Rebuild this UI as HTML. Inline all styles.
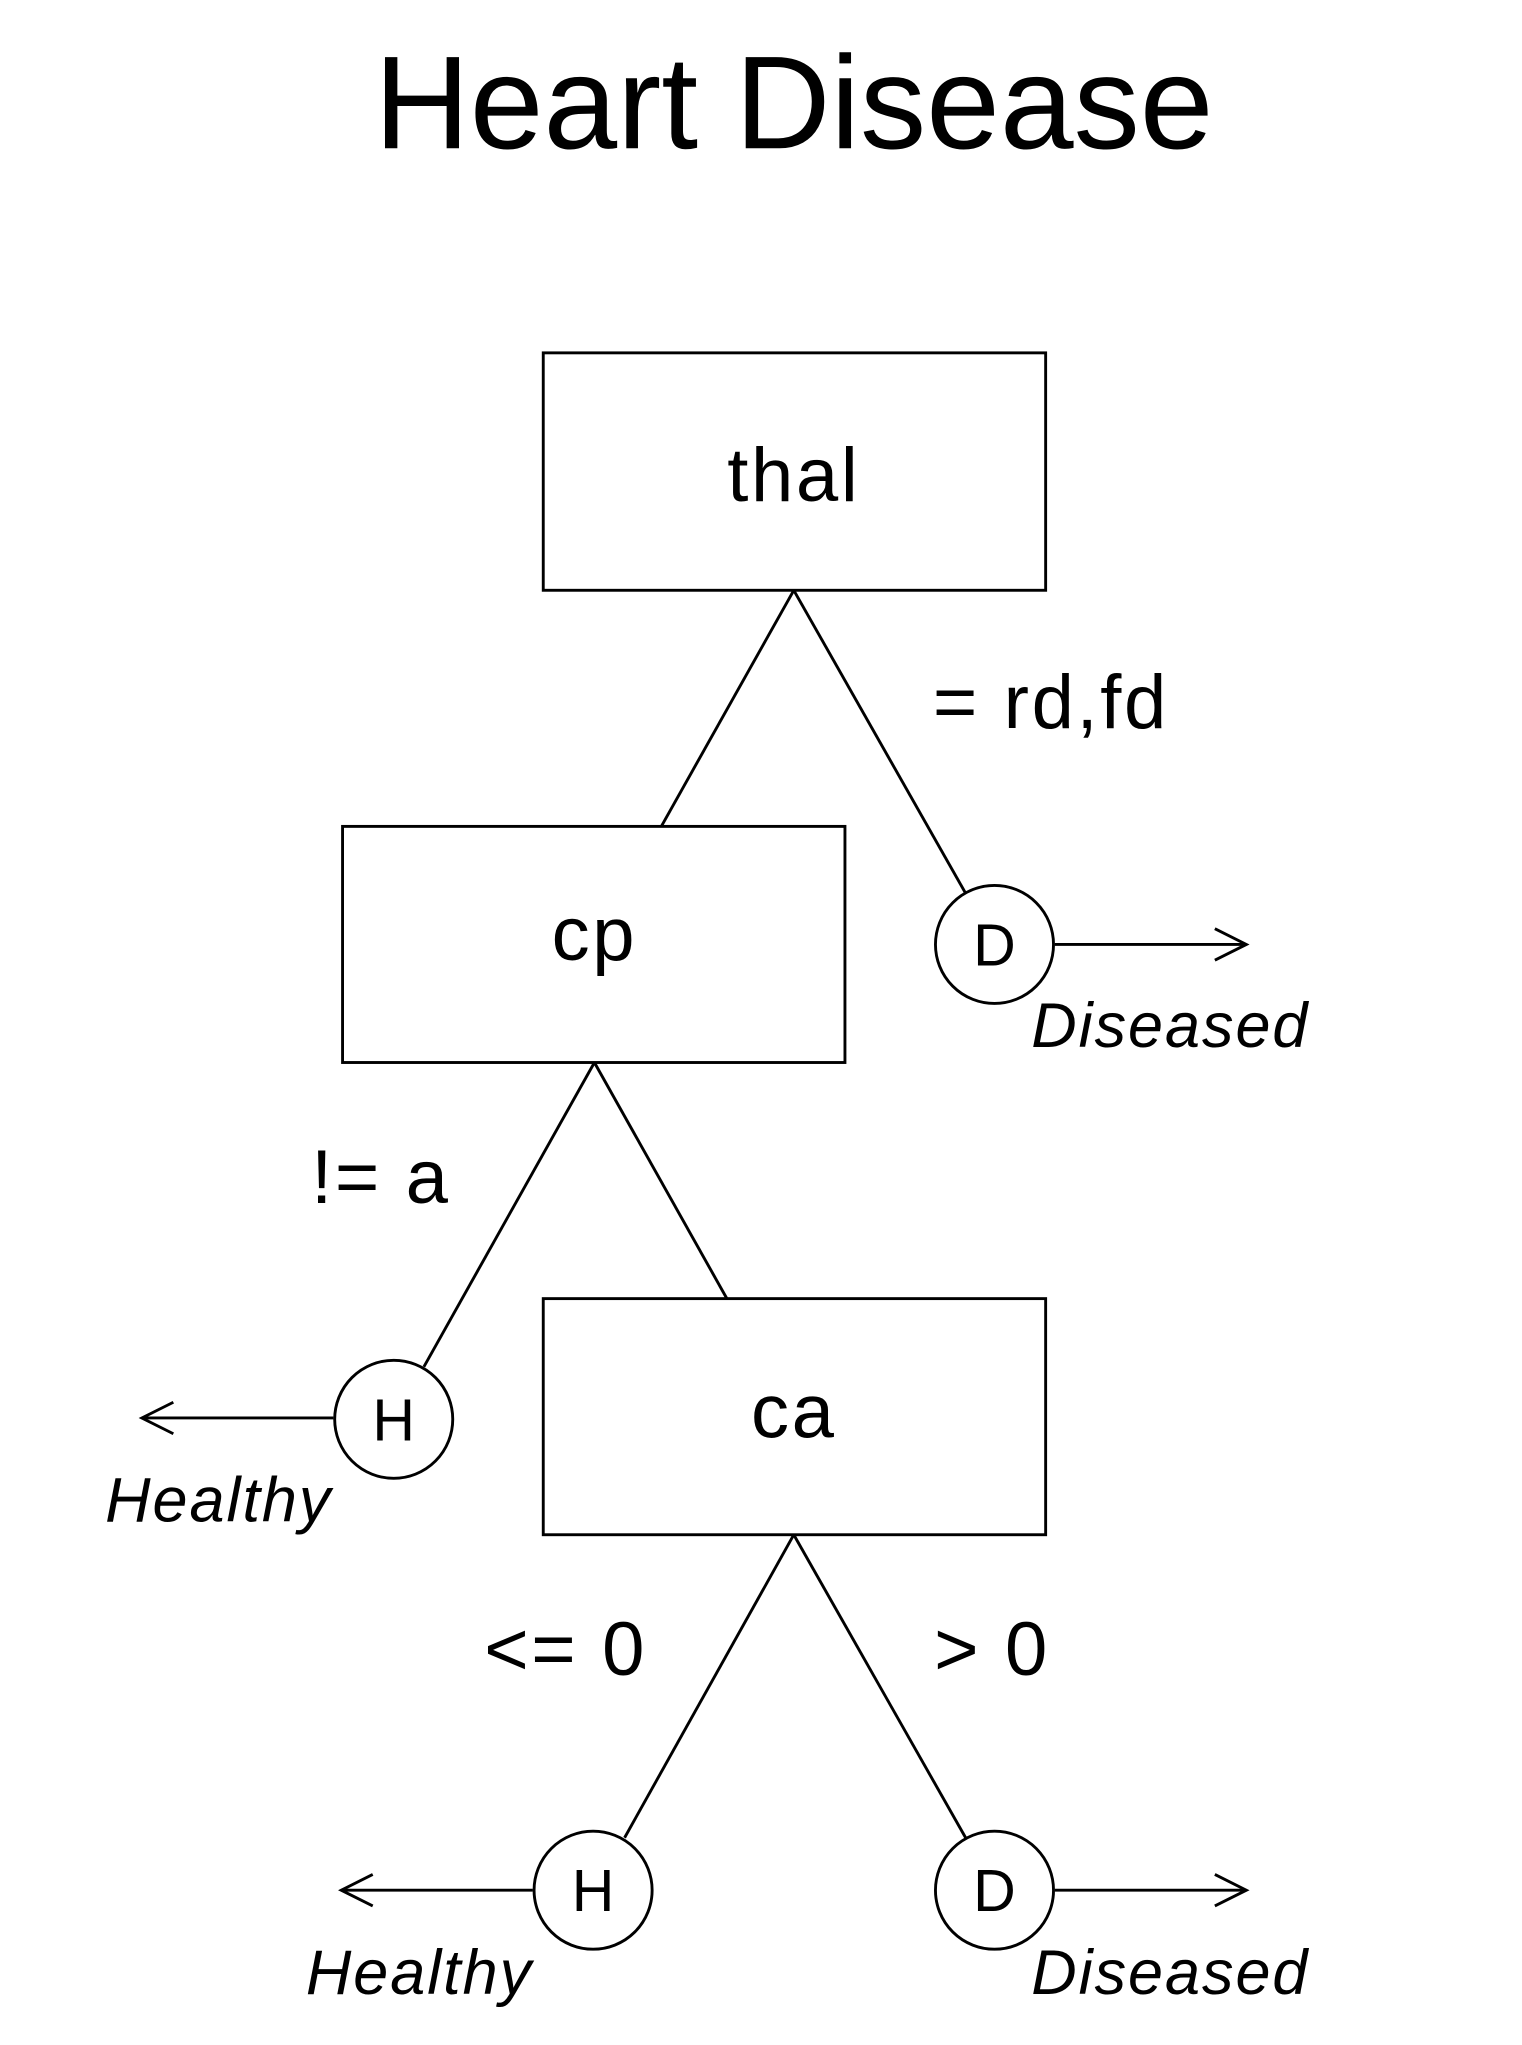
<!DOCTYPE html>
<html><head><meta charset="utf-8"><style>html,body{margin:0;padding:0;background:#fff}svg{display:block}</style></head>
<body>
<svg width="1522" height="2045" viewBox="0 0 1160 1559" xmlns="http://www.w3.org/2000/svg" font-family="Liberation Sans, Arial, sans-serif">
<rect width="1160" height="1559" fill="#fff"/>
<text x="605" y="113" font-size="101" text-anchor="middle">Heart Disease</text>
<g fill="#fff" stroke="#000" stroke-width="2.2">
<rect x="414" y="269" width="383" height="181"/>
<rect x="261" y="630" width="383" height="180"/>
<rect x="414" y="990" width="383" height="180"/>
</g>
<g stroke="#000" stroke-width="2.2" fill="none">
<line x1="605" y1="450" x2="504" y2="630"/>
<line x1="605" y1="450" x2="736" y2="681"/>
<line x1="453" y1="810" x2="323" y2="1042"/>
<line x1="453" y1="810" x2="554" y2="990"/>
<line x1="605" y1="1170" x2="476" y2="1401"/>
<line x1="605" y1="1170" x2="736" y2="1401"/>
<circle cx="758" cy="720" r="45"/>
<circle cx="300" cy="1082" r="45"/>
<circle cx="452" cy="1441" r="45"/>
<circle cx="758" cy="1441" r="45"/>
<line x1="804" y1="720" x2="950" y2="720"/><polyline points="926,708 950,720 926,732"/>
<line x1="254" y1="1081" x2="108" y2="1081"/><polyline points="132,1069 108,1081 132,1093"/>
<line x1="406" y1="1441" x2="260" y2="1441"/><polyline points="284,1429 260,1441 284,1453"/>
<line x1="804" y1="1441" x2="950" y2="1441"/><polyline points="926,1429 950,1441 926,1453"/>
</g>
<g font-size="58" text-anchor="middle" letter-spacing="2">
<text x="605" y="382">thal</text>
<text x="453" y="732">cp</text>
<text x="605" y="1096">ca</text>
</g>
<g font-size="45" text-anchor="middle">
<text x="758" y="736">D</text>
<text x="300" y="1098">H</text>
<text x="452" y="1457">H</text>
<text x="758" y="1457">D</text>
</g>
<g font-size="58" letter-spacing="2">
<text x="711" y="555">= rd,fd</text>
<text x="237" y="917">!= a</text>
<text x="369" y="1277">&lt;= 0</text>
<text x="712" y="1277">&gt; 0</text>
</g>
<g font-size="48" font-style="italic" letter-spacing="1.5">
<text x="786" y="798">Diseased</text>
<text x="80" y="1160">Healthy</text>
<text x="233" y="1520">Healthy</text>
<text x="786" y="1520">Diseased</text>
</g>
</svg>
</body></html>
